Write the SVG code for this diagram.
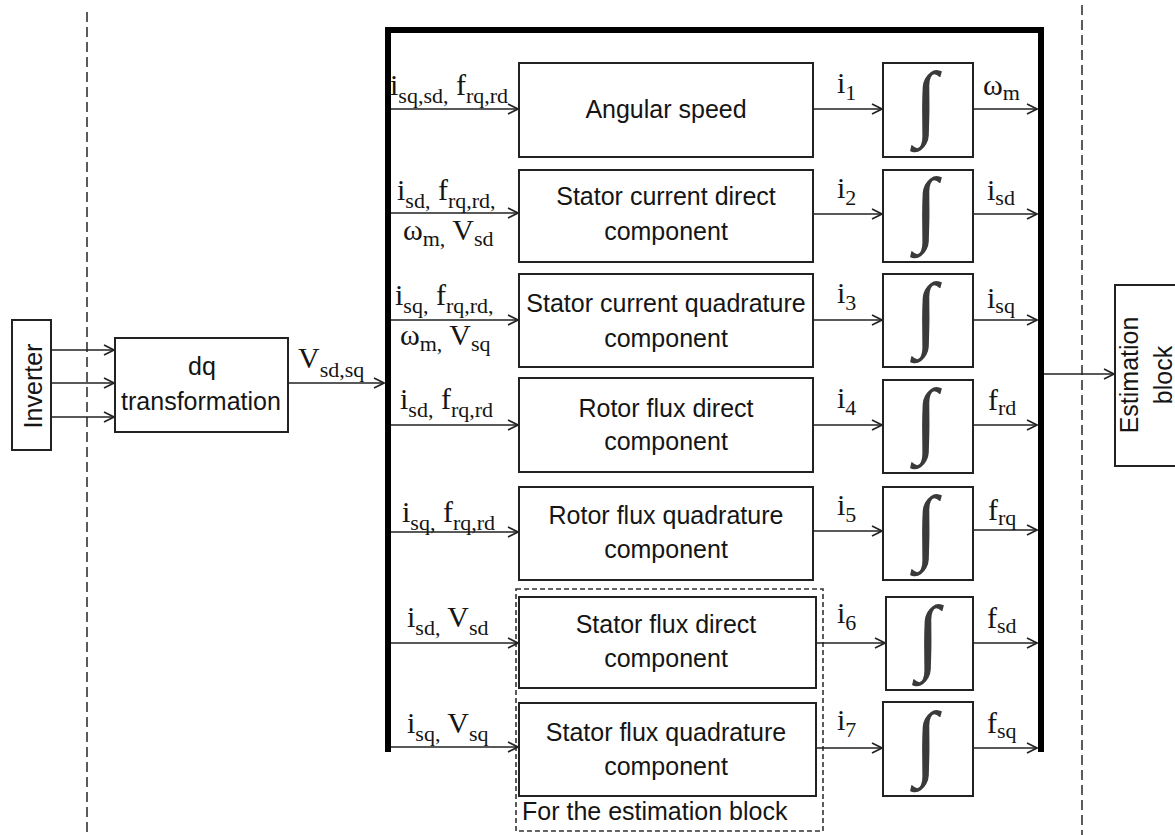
<svg xmlns="http://www.w3.org/2000/svg" width="1175" height="835" viewBox="0 0 1175 835">
<style>
.box{fill:#fff;stroke:#222;stroke-width:2}
.t{font-family:"Liberation Sans",Arial,sans-serif;font-size:25px;fill:#151515;text-anchor:middle}
.m{font-family:"Liberation Serif","Times New Roman",serif;font-size:30px;fill:#151515}
.s{font-size:22px}
.w{fill:none;stroke:#222;stroke-width:1.6}
.dash{fill:none;stroke:#333;stroke-width:1.6;stroke-dasharray:10 5}
.int{font-family:"Liberation Serif",serif;font-size:84px;fill:#3a3a3a;text-anchor:middle}
</style>
<defs>
<marker id="a" viewBox="0 0 12 12" refX="11" refY="6" markerWidth="12" markerHeight="12" markerUnits="userSpaceOnUse" orient="auto"><path d="M1,1 L11,6 L1,11" fill="none" stroke="#222" stroke-width="1.6"/></marker>
</defs>
<rect width="1175" height="835" fill="#fff"/>
<g id="separators">
<line class="dash" x1="87" y1="12" x2="87" y2="835"/>
<line class="dash" x1="1082" y1="5" x2="1082" y2="835"/>
</g>
<g id="frame"><path d="M388,752 V30 H1041 V752" fill="none" stroke="#000" stroke-width="6"/></g>
<g id="inverter"><rect class="box" x="12" y="320" width="39" height="130"/><text class="t" transform="translate(42,386) rotate(-90)">Inverter</text></g>
<g id="dq"><rect class="box" x="115" y="338" width="173" height="94"/><text class="t" x="202" y="375">dq</text><text class="t" x="201" y="410">transformation</text></g>
<g id="estimation"><rect class="box" x="1115" y="285" width="90" height="181"/><text class="t" transform="translate(1138,375) rotate(-90)">Estimation</text><text class="t" transform="translate(1172,375) rotate(-90)">block</text></g>
<g id="group-est"><rect x="516" y="589" width="307" height="242" class="dash" style="stroke-dasharray:5 3"/><text class="t" x="522" y="820" style="text-anchor:start">For the estimation block</text></g>
<g id="b1"><rect class="box" x="519" y="63" width="294" height="94"/><text class="t" x="666" y="118">Angular speed</text></g>
<g id="b2"><rect class="box" x="519" y="170" width="294" height="92"/><text class="t" x="666" y="205">Stator current direct</text><text class="t" x="666" y="240">component</text></g>
<g id="b3"><rect class="box" x="519" y="274" width="294" height="93"/><text class="t" x="666" y="312">Stator current quadrature</text><text class="t" x="666" y="347">component</text></g>
<g id="b4"><rect class="box" x="519" y="378" width="294" height="94"/><text class="t" x="666" y="417">Rotor flux direct</text><text class="t" x="666" y="450">component</text></g>
<g id="b5"><rect class="box" x="519" y="487" width="294" height="93"/><text class="t" x="666" y="524">Rotor flux quadrature</text><text class="t" x="666" y="558">component</text></g>
<g id="b6"><rect class="box" x="519" y="597" width="297" height="91"/><text class="t" x="666" y="633">Stator flux direct</text><text class="t" x="666" y="667">component</text></g>
<g id="b7"><rect class="box" x="519" y="703" width="297" height="93"/><text class="t" x="666" y="741">Stator flux quadrature</text><text class="t" x="666" y="775">component</text></g>
<g id="int1"><rect class="box" x="883" y="63" width="90" height="94"/><text class="int" x="926" y="130">∫</text></g>
<g id="int2"><rect class="box" x="883" y="170" width="90" height="92"/><text class="int" x="926" y="236">∫</text></g>
<g id="int3"><rect class="box" x="883" y="274" width="90" height="93"/><text class="int" x="926" y="341">∫</text></g>
<g id="int4"><rect class="box" x="883" y="380" width="90" height="93"/><text class="int" x="926" y="447">∫</text></g>
<g id="int5"><rect class="box" x="883" y="487" width="90" height="93"/><text class="int" x="926" y="554">∫</text></g>
<g id="int6"><rect class="box" x="886" y="597" width="87" height="93"/><text class="int" x="928" y="664">∫</text></g>
<g id="int7"><rect class="box" x="883" y="702" width="90" height="94"/><text class="int" x="926" y="770">∫</text></g>
<g id="connectors">
<path class="w" d="M51,350 H114" marker-end="url(#a)"/>
<path class="w" d="M51,383 H114" marker-end="url(#a)"/>
<path class="w" d="M51,417 H114" marker-end="url(#a)"/>
<path class="w" d="M288,383 H384" marker-end="url(#a)"/>
<path class="w" d="M391,109 H518" marker-end="url(#a)"/>
<path class="w" d="M391,213 H518" marker-end="url(#a)"/>
<path class="w" d="M391,320 H518" marker-end="url(#a)"/>
<path class="w" d="M391,425 H518" marker-end="url(#a)"/>
<path class="w" d="M391,532 H518" marker-end="url(#a)"/>
<path class="w" d="M391,643 H518" marker-end="url(#a)"/>
<path class="w" d="M391,747 H518" marker-end="url(#a)"/>
<path class="w" d="M813,109 H882" marker-end="url(#a)"/>
<path class="w" d="M813,214 H882" marker-end="url(#a)"/>
<path class="w" d="M813,320 H882" marker-end="url(#a)"/>
<path class="w" d="M813,425 H882" marker-end="url(#a)"/>
<path class="w" d="M813,531 H882" marker-end="url(#a)"/>
<path class="w" d="M816,643 H885" marker-end="url(#a)"/>
<path class="w" d="M816,748 H882" marker-end="url(#a)"/>
<path class="w" d="M973,109 H1037" marker-end="url(#a)"/>
<path class="w" d="M973,214 H1037" marker-end="url(#a)"/>
<path class="w" d="M973,320 H1037" marker-end="url(#a)"/>
<path class="w" d="M973,425 H1037" marker-end="url(#a)"/>
<path class="w" d="M973,530 H1037" marker-end="url(#a)"/>
<path class="w" d="M973,643 H1037" marker-end="url(#a)"/>
<path class="w" d="M973,748 H1037" marker-end="url(#a)"/>
<path class="w" d="M1044,374 H1114" marker-end="url(#a)"/>
</g>
<g id="labels">
<text class="m" x="298" y="368">V<tspan class="s" dy="9">sd,sq</tspan></text>
<text class="m" x="390" y="95">i<tspan class="s" dy="8">sq,sd,</tspan><tspan dy="-8"> f</tspan><tspan class="s" dy="8">rq,rd</tspan></text>
<text class="m" x="397" y="200">i<tspan class="s" dy="8">sd,</tspan><tspan dy="-8"> f</tspan><tspan class="s" dy="8">rq,rd,</tspan></text>
<text class="m" x="403" y="240">ω<tspan class="s" dy="6">m,</tspan><tspan dy="-6"> V</tspan><tspan class="s" dy="6">sd</tspan></text>
<text class="m" x="395" y="305">i<tspan class="s" dy="8">sq,</tspan><tspan dy="-8"> f</tspan><tspan class="s" dy="8">rq,rd,</tspan></text>
<text class="m" x="400" y="345">ω<tspan class="s" dy="6">m,</tspan><tspan dy="-6"> V</tspan><tspan class="s" dy="6">sq</tspan></text>
<text class="m" x="400" y="409">i<tspan class="s" dy="8">sd,</tspan><tspan dy="-8"> f</tspan><tspan class="s" dy="8">rq,rd</tspan></text>
<text class="m" x="402" y="522">i<tspan class="s" dy="8">sq,</tspan><tspan dy="-8"> f</tspan><tspan class="s" dy="8">rq,rd</tspan></text>
<text class="m" x="407" y="627">i<tspan class="s" dy="8">sd,</tspan><tspan dy="-8"> V</tspan><tspan class="s" dy="8">sd</tspan></text>
<text class="m" x="407" y="733">i<tspan class="s" dy="8">sq,</tspan><tspan dy="-8"> V</tspan><tspan class="s" dy="8">sq</tspan></text>
<text class="m" x="837" y="93">i<tspan class="s" dy="7">1</tspan></text>
<text class="m" x="837" y="198">i<tspan class="s" dy="7">2</tspan></text>
<text class="m" x="837" y="303">i<tspan class="s" dy="7">3</tspan></text>
<text class="m" x="837" y="408">i<tspan class="s" dy="7">4</tspan></text>
<text class="m" x="837" y="515">i<tspan class="s" dy="7">5</tspan></text>
<text class="m" x="837" y="623">i<tspan class="s" dy="7">6</tspan></text>
<text class="m" x="837" y="730">i<tspan class="s" dy="7">7</tspan></text>
<text class="m" x="983" y="95">ω<tspan class="s" dy="5">m</tspan></text>
<text class="m" x="987" y="200">i<tspan class="s" dy="5">sd</tspan></text>
<text class="m" x="987" y="308">i<tspan class="s" dy="5">sq</tspan></text>
<text class="m" x="988" y="410">f<tspan class="s" dy="5">rd</tspan></text>
<text class="m" x="988" y="520">f<tspan class="s" dy="5">rq</tspan></text>
<text class="m" x="987" y="628">f<tspan class="s" dy="5">sd</tspan></text>
<text class="m" x="987" y="733">f<tspan class="s" dy="5">sq</tspan></text>
</g>
</svg>
